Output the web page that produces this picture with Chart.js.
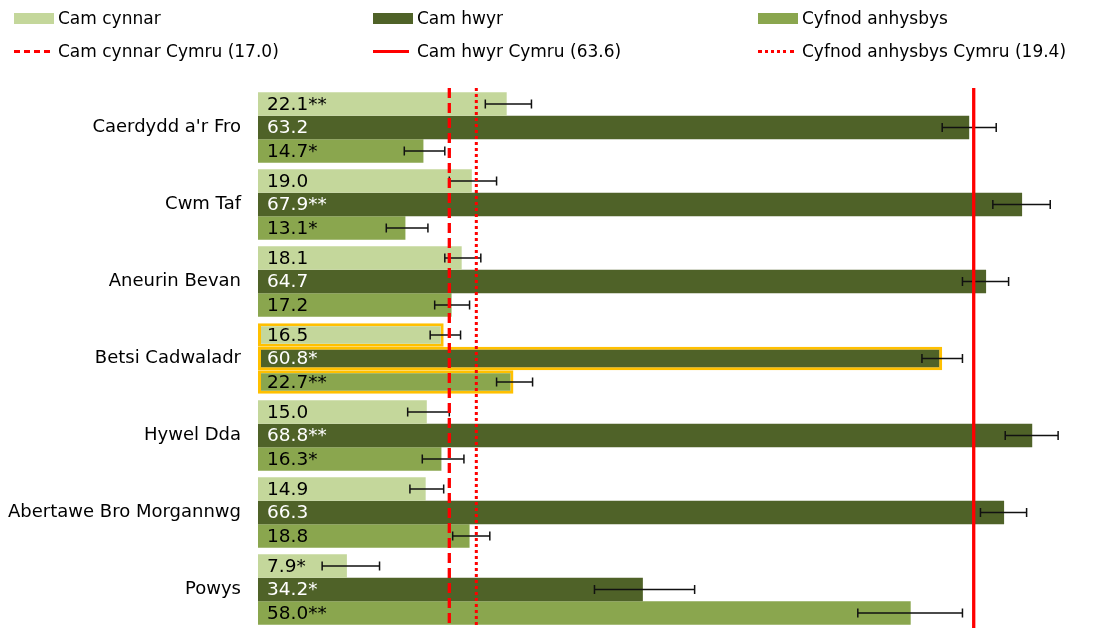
<!DOCTYPE html>
<html>
<head>
<meta charset="utf-8">
<script src="https://cdn.jsdelivr.net/npm/chart.js@4/dist/chart.umd.min.js"></script>
<style>
  body { margin: 0; background: #fff; font-family: "DejaVu Sans", Verdana, sans-serif; }
  #wrap { position: relative; width: 1102px; height: 628px; }
  #legend { position: absolute; left: 0; top: 0; width: 1102px; height: 70px; font-size: 17px; color: #000; }
  .item { position: absolute; display: flex; align-items: center; height: 20px; white-space: nowrap; }
  .box { width: 40px; height: 11px; margin-right: 4px; }
  .ln { width: 36px; height: 0; margin-right: 8px; }
</style>
</head>
<body>
<div id="wrap">
  <canvas id="chart" width="1102" height="628"></canvas>
  <div id="legend"></div>
</div>
<script>
const categories = ["Caerdydd a'r Fro", "Cwm Taf", "Aneurin Bevan", "Betsi Cadwaladr", "Hywel Dda", "Abertawe Bro Morgannwg", "Powys"];

const camCynnar = [22.1, 19.0, 18.1, 16.5, 15.0, 14.9, 7.9];
const camCynnarSig = ["**", "", "", "", "", "", "*"];
const camCynnarLow = [20.2, 17.0, 16.6, 15.3, 13.3, 13.5, 5.7];
const camCynnarHigh = [24.3, 21.2, 19.8, 18.0, 17.0, 16.5, 10.8];

const camHwyr = [63.2, 67.9, 64.7, 60.8, 68.8, 66.3, 34.2];
const camHwyrSig = ["", "**", "", "*", "**", "", "*"];
const camHwyrLow = [60.8, 65.3, 62.6, 59.0, 66.4, 64.2, 29.9];
const camHwyrHigh = [65.6, 70.4, 66.7, 62.6, 71.1, 68.3, 38.8];

const cyfnod = [14.7, 13.1, 17.2, 22.7, 16.3, 18.8, 58.0];
const cyfnodSig = ["*", "*", "", "**", "*", "", "**"];
const cyfnodLow = [13.0, 11.4, 15.7, 21.2, 14.6, 17.3, 53.3];
const cyfnodHigh = [16.6, 15.1, 18.8, 24.4, 18.3, 20.6, 62.6];

// Welsh averages
const walesNames = ["Cam cynnar Cymru", "Cam hwyr Cymru", "Cyfnod anhysbys Cymru"];
const walesValues = [17.0, 63.6, 19.4];

const highlight = 3; // Betsi Cadwaladr
const colLight = "#c4d79b", colDark = "#4f6228", colMid = "#8aa64e", colGold = "#ffc000";

const sigs = [camCynnarSig, camHwyrSig, cyfnodSig];
const lows = [camCynnarLow, camHwyrLow, cyfnodLow];
const highs = [camCynnarHigh, camHwyrHigh, cyfnodHigh];
const labelColours = ["#000", "#fff", "#000"];
const walesDash = [[10, 5], [], [3, 3]];

function mk(label, data, colour) {
  return {
    label, data, backgroundColor: colour,
    borderColor: data.map((v, i) => i === highlight ? colGold : "rgba(255,255,255,0.4)"),
    borderWidth: data.map((v, i) => i === highlight ? 3 : 0),
    borderSkipped: false,
    categoryPercentage: 0.915, barPercentage: 1.0
  };
}

const overlays = {
  id: "overlays",
  afterDatasetsDraw(chart) {
    const ctx = chart.ctx, x = chart.scales.x, area = chart.chartArea;
    ctx.save();
    // error bars
    chart.data.datasets.forEach((ds, d) => {
      chart.getDatasetMeta(d).data.forEach((bar, i) => {
        const x1 = x.getPixelForValue(lows[d][i]), x2 = x.getPixelForValue(highs[d][i]);
        ctx.strokeStyle = "#111"; ctx.lineWidth = 1.5;
        ctx.beginPath();
        ctx.moveTo(x1, bar.y); ctx.lineTo(x2, bar.y);
        ctx.moveTo(x1, bar.y - 4.5); ctx.lineTo(x1, bar.y + 4.5);
        ctx.moveTo(x2, bar.y - 4.5); ctx.lineTo(x2, bar.y + 4.5);
        ctx.stroke();
      });
    });
    // value labels
    ctx.font = "18.5px 'DejaVu Sans'";
    ctx.textBaseline = "middle"; ctx.textAlign = "left";
    chart.data.datasets.forEach((ds, d) => {
      chart.getDatasetMeta(d).data.forEach((bar, i) => {
        ctx.fillStyle = labelColours[d];
        ctx.fillText(ds.data[i].toFixed(1) + sigs[d][i], bar.base + 9, bar.y + 1);
      });
    });
    // Wales reference lines
    walesValues.forEach((v, k) => {
      const px = x.getPixelForValue(v);
      ctx.strokeStyle = "#ff0000";
      ctx.lineWidth = k === 2 ? 3 : 3.3;
      ctx.setLineDash(walesDash[k]);
      ctx.beginPath();
      ctx.moveTo(px, area.top - 1); ctx.lineTo(px, area.bottom);
      ctx.stroke();
    });
    ctx.restore();
  }
};

new Chart(document.getElementById("chart"), {
  type: "bar",
  data: {
    labels: categories,
    datasets: [
      mk("Cam cynnar", camCynnar, colLight),
      mk("Cam hwyr", camHwyr, colDark),
      mk("Cyfnod anhysbys", cyfnod, colMid)
    ]
  },
  options: {
    indexAxis: "y",
    responsive: false,
    animation: false,
    layout: { padding: { top: 89, bottom: 0, left: 0, right: 0 } },
    scales: {
      x: { display: false, min: 0, max: 75 },
      y: {
        grid: { display: false, drawTicks: false },
        border: { display: false },
        ticks: { color: "#000", padding: 17, font: { family: "DejaVu Sans", size: 18 } },
        afterFit(scale) {
          scale.width = 258;
          // don't let the tick padding push the plot area up from the bottom
          scale.paddingTop = 0;
          scale.paddingBottom = 0;
        }
      }
    },
    plugins: { legend: { display: false }, tooltip: { enabled: false } }
  },
  plugins: [overlays]
});

// legend (3 columns, 2 rows)
const legendCols = [14, 373, 758];
const seriesNames = ["Cam cynnar", "Cam hwyr", "Cyfnod anhysbys"];
const seriesColours = [colLight, colDark, colMid];
const lineStyles = ["dashed", "solid", "dotted"];
const legend = document.getElementById("legend");
seriesNames.forEach((name, k) => {
  const a = document.createElement("div");
  a.className = "item"; a.style.left = legendCols[k] + "px"; a.style.top = "8px";
  a.innerHTML = '<span class="box" style="background:' + seriesColours[k] + '"></span>' + name;
  legend.appendChild(a);
  const b = document.createElement("div");
  b.className = "item"; b.style.left = legendCols[k] + "px"; b.style.top = "41px";
  b.innerHTML = '<span class="ln" style="border-top:3px ' + lineStyles[k] + ' #ff0000"></span>' +
    walesNames[k] + " (" + walesValues[k].toFixed(1) + ")";
  legend.appendChild(b);
});
</script>
</body>
</html>
